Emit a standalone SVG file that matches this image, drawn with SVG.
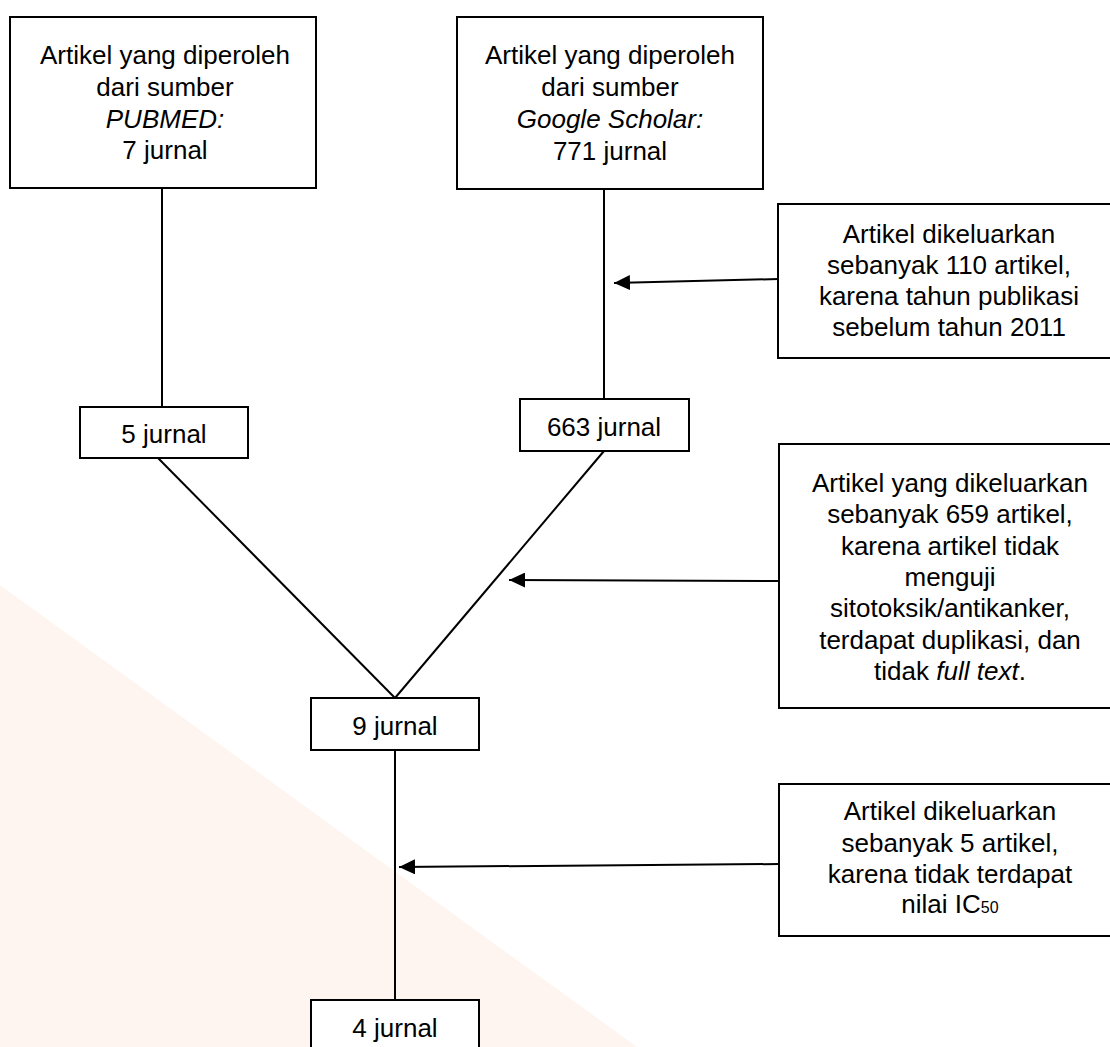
<svg xmlns="http://www.w3.org/2000/svg" width="1110" height="1047" viewBox="0 0 1110 1047">
<style>
.box{fill:#ffffff;stroke:#000000;stroke-width:2}
.t{font-family:"Liberation Sans",Arial,sans-serif;font-size:26px;fill:#000000;text-anchor:middle}
.i{font-style:italic}
.c{stroke:#000000;stroke-width:2;fill:none}
</style>
<defs>
<marker id="ah" markerUnits="userSpaceOnUse" markerWidth="16" markerHeight="15" refX="16" refY="7.5" orient="auto">
<path d="M0,0 L16,7.5 L0,15 Z" fill="#000000"/>
</marker>
</defs>
<rect width="1110" height="1047" fill="#ffffff"/>
<polygon points="0,585 637,1047 0,1047" fill="#FEF5F0"/>
<g id="connectors">
<line class="c" x1="162" y1="188" x2="162" y2="407"/>
<line class="c" x1="604" y1="189" x2="604" y2="399"/>
<line class="c" x1="158" y1="458" x2="395" y2="698"/>
<line class="c" x1="604" y1="451" x2="395" y2="698"/>
<line class="c" x1="395" y1="750" x2="395" y2="1000"/>
<line class="c" x1="778" y1="279" x2="614" y2="283" marker-end="url(#ah)"/>
<line class="c" x1="779" y1="581" x2="509" y2="580" marker-end="url(#ah)"/>
<line class="c" x1="779" y1="864" x2="399" y2="867" marker-end="url(#ah)"/>
</g>
<g id="pubmed">
<rect class="box" x="10" y="17" width="306" height="171"/>
<text class="t" x="165" y="64">Artikel yang diperoleh</text>
<text class="t" x="165" y="96">dari sumber</text>
<text class="t i" x="165" y="128">PUBMED:</text>
<text class="t" x="165" y="159">7 jurnal</text>
</g>
<g id="scholar">
<rect class="box" x="457" y="17" width="306" height="172"/>
<text class="t" x="610" y="64">Artikel yang diperoleh</text>
<text class="t" x="610" y="96">dari sumber</text>
<text class="t i" x="610" y="128">Google Scholar:</text>
<text class="t" x="610" y="160">771 jurnal</text>
</g>
<g id="excl1">
<rect class="box" x="778" y="204" width="342" height="154"/>
<text class="t" x="949" y="243">Artikel dikeluarkan</text>
<text class="t" x="949" y="274">sebanyak 110 artikel,</text>
<text class="t" x="949" y="305">karena tahun publikasi</text>
<text class="t" x="949" y="336">sebelum tahun 2011</text>
</g>
<g id="j5">
<rect class="box" x="80" y="407" width="168" height="51"/>
<text class="t" x="164" y="443">5 jurnal</text>
</g>
<g id="j663">
<rect class="box" x="520" y="399" width="169" height="52"/>
<text class="t" x="604" y="436">663 jurnal</text>
</g>
<g id="excl2">
<rect class="box" x="779" y="444" width="342" height="264"/>
<text class="t" x="950" y="492">Artikel yang dikeluarkan</text>
<text class="t" x="950" y="523">sebanyak 659 artikel,</text>
<text class="t" x="950" y="555">karena artikel tidak</text>
<text class="t" x="950" y="586">menguji</text>
<text class="t" x="950" y="617">sitotoksik/antikanker,</text>
<text class="t" x="950" y="649">terdapat duplikasi, dan</text>
<text class="t" x="950" y="680">tidak <tspan class="i">full text</tspan>.</text>
</g>
<g id="j9">
<rect class="box" x="311" y="698" width="168" height="52"/>
<text class="t" x="395" y="735">9 jurnal</text>
</g>
<g id="excl3">
<rect class="box" x="779" y="784" width="342" height="152"/>
<text class="t" x="950" y="820">Artikel dikeluarkan</text>
<text class="t" x="950" y="852">sebanyak 5 artikel,</text>
<text class="t" x="950" y="883">karena tidak terdapat</text>
<text class="t" x="950" y="913">nilai IC<tspan font-size="16px">50</tspan></text>
</g>
<g id="j4">
<rect class="box" x="311" y="1000" width="168" height="60"/>
<text class="t" x="395" y="1037">4 jurnal</text>
</g>
</svg>
